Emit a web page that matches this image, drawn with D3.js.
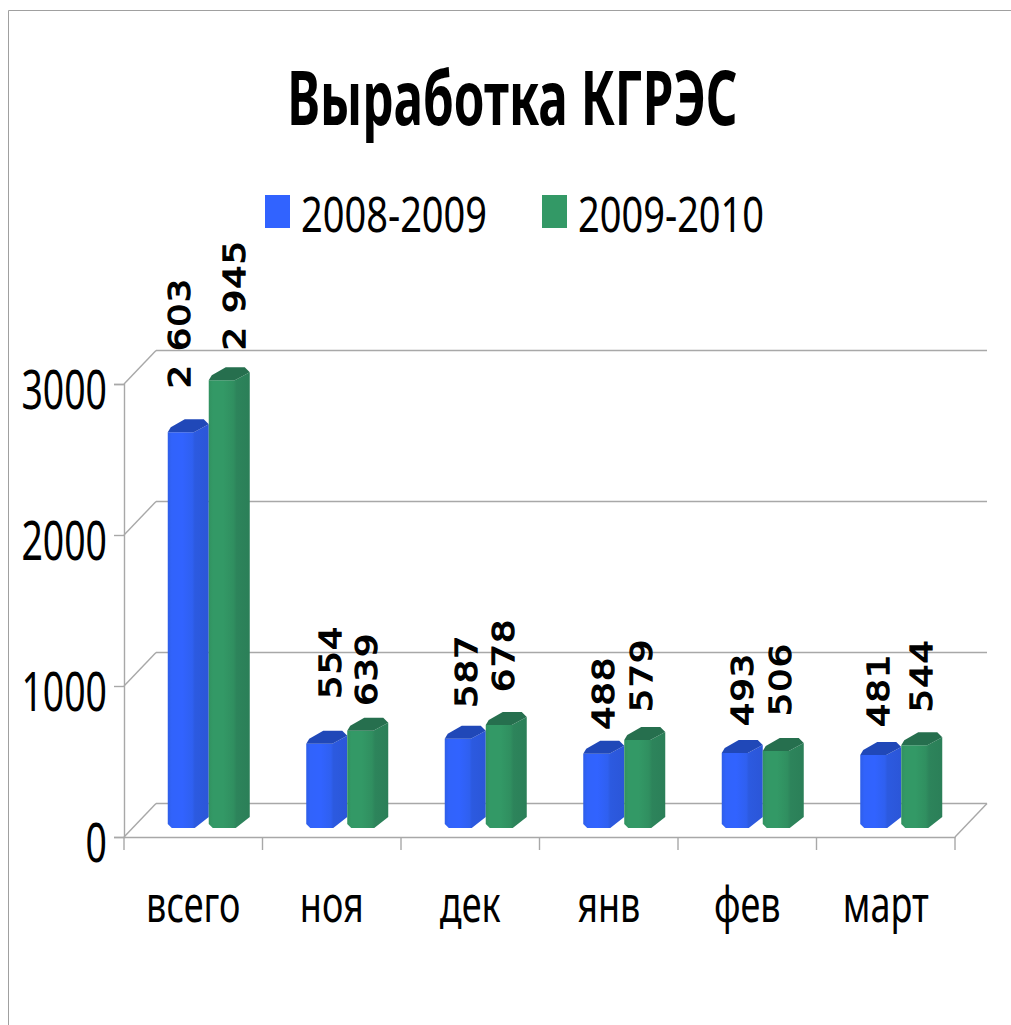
<!DOCTYPE html>
<html lang="ru"><head><meta charset="utf-8">
<script src="https://cdn.jsdelivr.net/npm/d3@7"></script>
<style>html,body{margin:0;padding:0;background:#fff}svg{display:block}text{fill:#000}</style>
</head><body><div id="c"></div>
<script>
const categories = ["всего","ноя","дек","янв","фев","март"];
const seriesNames = ["2008-2009","2009-2010"];
const values2008 = [2603,554,587,488,493,481];
const values2009 = [2945,639,678,579,506,544];
const labels2008 = ["2 603","554","587","488","493","481"];
const labels2009 = ["2 945","639","678","579","506","544"];
const axisTicks = [0,1000,2000,3000];
const titleText = "Выработка КГРЭС";
// label placement nudges (gap above the bar, shift from the bar's left edge)
const labelLift = [[44,45,31,24,27,28],[30,25,33,28,35,33]];
const labelShift = [[22,35,32,31,31,29],[36,30,28,28,28,31]];

const W=1011,H=1025, depth=[32,-33.5], font="'Noto Sans'", cond=0.68;
const svg=d3.select("#c").append("svg").attr("width",W).attr("height",H);
const grid="#a8a8a8";

svg.append("path").attr("d",`M${W},10.5H8.5V${H}`).attr("fill","none").attr("stroke","#a0a0a0");

const defs=svg.append("defs");
function facets(id,stops){
  const g=defs.append("linearGradient").attr("id",id);
  stops.forEach(([o,c])=>g.append("stop").attr("offset",o).attr("stop-color",c));
}
facets("gBlue",[[0,"#2e5ee8"],[.1,"#3163fb"],[.35,"#3163ff"],[.6,"#2f60f0"],[.66,"#2c5ae0"],[1,"#2b56d8"]]);
facets("gGreen",[[0,"#31915f"],[.1,"#339966"],[.35,"#339966"],[.6,"#308f60"],[.68,"#2d845b"],[1,"#2b7f58"]]);
const palette=[{body:"url(#gBlue)",top:"#2048b8",key:"#3163ff"},{body:"url(#gGreen)",top:"#266f4e",key:"#339966"}];

const x=d3.scaleBand().domain(categories).range([124,955]);
const y=d3.scaleLinear().domain([0,3000]).range([837,384]);
const yBar=d3.scaleLinear().domain([0,3000]).range([828,372]);

const backLines=svg.append("g").attr("stroke",grid).attr("stroke-width",1.4).attr("fill","none");
axisTicks.forEach(t=>{
  backLines.append("line").attr("x1",x.range()[0]+depth[0]).attr("x2",x.range()[1]+depth[0])
    .attr("y1",y(t)+depth[1]).attr("y2",y(t)+depth[1]);
  backLines.append("line").attr("x1",x.range()[0]).attr("x2",x.range()[0]+depth[0])
    .attr("y1",y(t)).attr("y2",y(t)+depth[1]);
});
backLines.append("line").attr("x1",x.range()[1]).attr("y1",y(0)).attr("x2",x.range()[1]+depth[0]).attr("y2",y(0)+depth[1]);

const ya=svg.append("g").attr("transform",`translate(${x.range()[0]},0)`)
  .call(d3.axisLeft(y).tickValues(axisTicks).tickSize(10).tickFormat(d3.format("d")));
ya.selectAll("path,line").attr("stroke",grid).attr("stroke-width",1.4);
ya.selectAll("text").attr("font-family",font).attr("font-size",55)
  .attr("x",-17/cond).attr("dy","0.45em").attr("transform",`scale(${cond},1)`);

const xa=svg.append("g").attr("transform",`translate(0,${y(0)})`)
  .call(d3.axisBottom(x).tickSize(0).tickPadding(0));
xa.select("path").attr("stroke",grid).attr("stroke-width",1.4);
xa.selectAll("text").attr("font-family",font).attr("font-size",50)
  .attr("y",0).attr("dy",0)
  .attr("transform",`translate(0,85) scale(0.72,1)`);
const bounds=categories.map(c=>x(c)).concat(x.range()[1]);
xa.selectAll("line.bound").data(bounds).join("line").attr("class","bound")
  .attr("x1",d=>d).attr("x2",d=>d).attr("y1",0).attr("y2",13).attr("stroke",grid).attr("stroke-width",1.4);

const bw=41;
[values2008,values2009].forEach((vals,s)=>{
  const g=svg.append("g");
  const lab=s?labels2009:labels2008;
  categories.forEach((c,i)=>{
    const left=x(c)+x.bandwidth()/2+15.5-bw+s*bw;
    const top=yBar(vals[i]), bot=yBar(0);
    const pt=a=>a.map(p=>p.join(",")).join(" ");
    g.append("polygon").attr("fill",palette[s].body).attr("points",pt([
      [left,top],[left+26,top],[left+bw,top-8],[left+bw,bot-11],[left+27,bot],[left+4,bot],[left,bot-4]]));
    g.append("polygon").attr("fill",palette[s].top).attr("points",pt([
      [left,top],[left+3,top-5],[left+17,top-13],[left+36,top-13],[left+bw,top-8],[left+26,top]]));
    g.append("text").text(lab[i])
      .attr("transform",`translate(${left+labelShift[s][i]},${top-labelLift[s][i]}) rotate(-90) scale(1.18,1)`)
      .attr("font-family","'DejaVu Sans'").attr("font-size",31)
      .attr("stroke","#000").attr("stroke-width",1.3)
      .attr("letter-spacing",1);
  });
});

svg.append("text").text(titleText)
  .attr("transform",`translate(512.5,125) scale(0.65,1)`).attr("text-anchor","middle")
  .attr("font-family",font).attr("font-weight","bold").attr("font-size",76);

const legX=d3.scalePoint().domain(seriesNames).range([265,542]);
seriesNames.forEach((n,s)=>{
  svg.append("rect").attr("x",legX(n)).attr("y",195).attr("width",25).attr("height",33).attr("fill",palette[s].key);
  svg.append("text").text(n).attr("transform",`translate(${legX(n)+36},232) scale(0.76,1)`)
    .attr("font-family",font).attr("font-size",50);
});
</script></body></html>
